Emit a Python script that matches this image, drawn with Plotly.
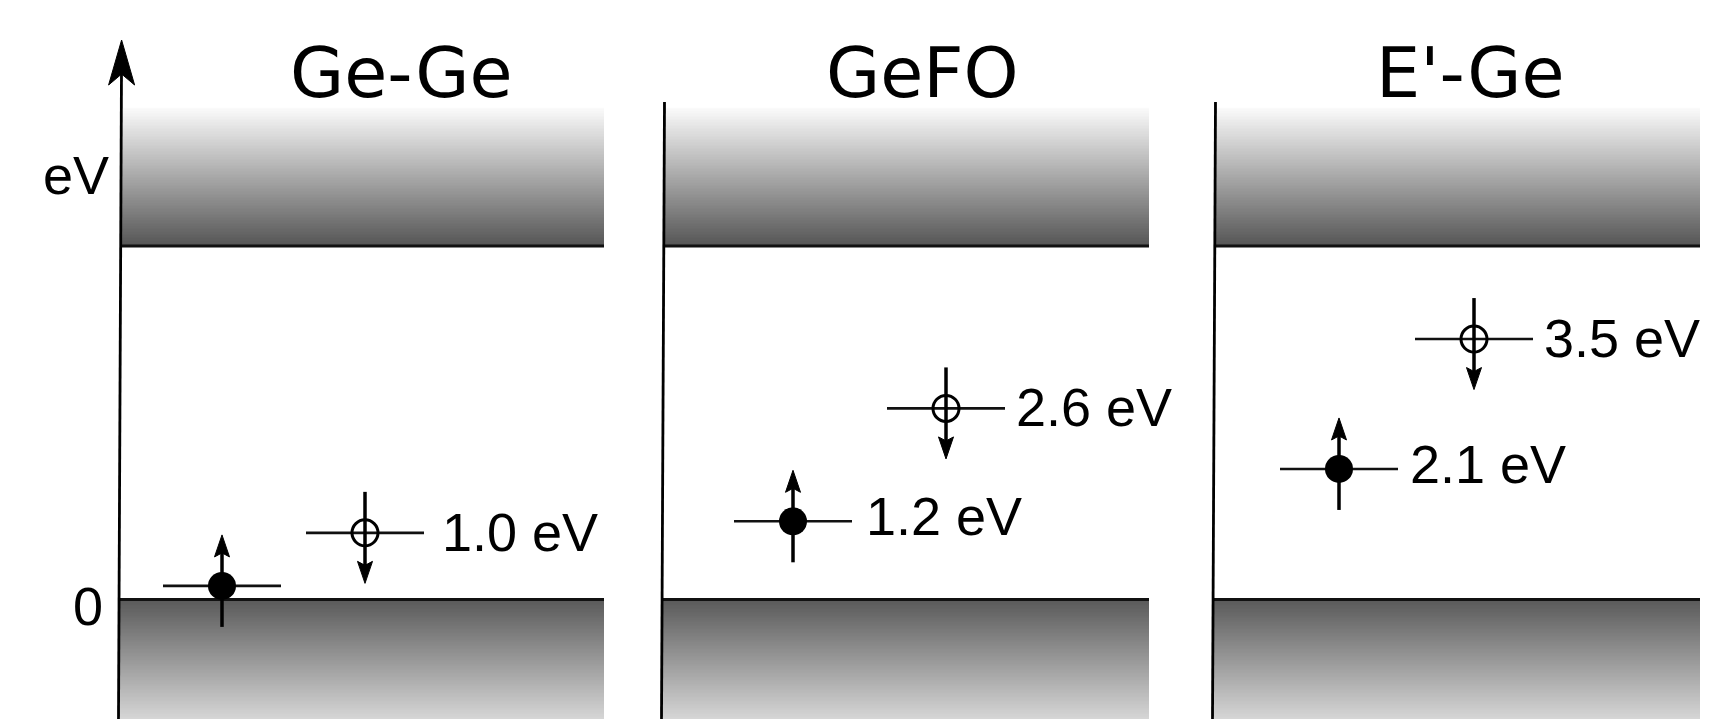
import numpy as np
import plotly.graph_objects as go

# ---------------- data (energies in eV, relative to valence-band top) ----------------
defects = ["Ge-Ge", "GeFO", "E'-Ge"]
vb_edge_ev = [0.0, 0.0, 0.0]
cb_edge_ev = [5.2, 5.2, 5.2]
occupied_ev = [0.20, 1.15, 1.92]     # filled circle, spin-up electron
empty_ev = [0.98, 2.81, 3.83]        # open circle, spin-down (empty) level
occupied_labels = ["", "1.2 eV", "2.1 eV"]
empty_labels = ["1.0 eV", "2.6 eV", "3.5 eV"]
axis_unit = "eV"
axis_zero = "0"

# ---------------- layout geometry (pixels) ----------------
W, H = 1712, 719
PX = 68.0                 # pixels per eV
ZERO_PX = 599.5           # pixel row of 0 eV
Y_MAX = ZERO_PX / PX
Y_MIN = -(H - ZERO_PX) / PX


def ev(px):
    return px / PX


def row(px):
    return (ZERO_PX - px) / PX


panel_left = [120, 663, 1214]
panel_right = [604, 1149, 1700]
panel_axis_top = [40, 102, 102]
occ_x = [222, 793, 1339]
emp_x = [365, 946, 1474]
occ_label_x = [0, 864, 1408]
emp_label_x = [440, 1014, 1542]
title_x = [401, 922, 1470]
title_y_px = 73
band_fade_px = 138        # height of the shaded band region beyond each edge

HALF = 59                 # half length of level line
LINE_W = 2.6
SHAFT_W = 3.5
BAND_LINE_W = 3.0
AXIS_W = 2.8

fig = go.Figure()

# ---------------- shaded bands ----------------
gray = [[0, "rgb(0,0,0)"], [1, "rgb(255,255,255)"]]
n = 90
for i in range(3):
    xl = panel_left[i]
    xr = panel_right[i]
    # conduction band (dark at edge, fading to white upward)
    cb = cb_edge_ev[i]
    ye = np.linspace(cb, cb + ev(band_fade_px), n + 1)
    zc = np.linspace(86, 250, n)
    fig.add_trace(go.Heatmap(x=[xl, xr], y=ye, z=[[v] for v in zc],
                             colorscale=gray, zmin=0, zmax=255,
                             showscale=False, hoverinfo="skip"))
    # valence band (dark at edge, fading downward)
    vb = vb_edge_ev[i]
    ye = np.linspace(vb, Y_MIN, n + 1)
    zv = np.linspace(90, 214, n)
    fig.add_trace(go.Heatmap(x=[xl, xr], y=ye, z=[[v] for v in zv],
                             colorscale=gray, zmin=0, zmax=255,
                             showscale=False, hoverinfo="skip"))


def line(xs, ys, w, color="black"):
    fig.add_trace(go.Scatter(x=xs, y=ys, mode="lines",
                             line=dict(color=color, width=w),
                             hoverinfo="skip", showlegend=False))


def head(x, tip, up, L, Wd, notch):
    s = 1 if up else -1
    xs = [x, x - Wd / 2, x, x + Wd / 2, x]
    ys = [tip, tip - s * ev(L), tip - s * ev(L - notch), tip - s * ev(L), tip]
    fig.add_trace(go.Scatter(x=xs, y=ys, mode="lines", fill="toself",
                             fillcolor="black", line=dict(color="black", width=1),
                             hoverinfo="skip", showlegend=False))


# band edge lines and axes
for i in range(3):
    xl, xr = panel_left[i], panel_right[i]
    line([xl, xr], [cb_edge_ev[i]] * 2, BAND_LINE_W, "#111")
    line([xl, xr], [vb_edge_ev[i]] * 2, BAND_LINE_W, "#111")
    top = row(panel_axis_top[i]) if i > 0 else row(panel_axis_top[i] + 30)
    line([xl - 1.5, xl + 1.5], [Y_MIN, top], AXIS_W)

# energy axis arrow head
head(panel_left[0] + 1.6, row(panel_axis_top[0]), True, 45, 26, 11)

# ---------------- defect levels ----------------
for i in range(3):
    yo, ye_ = occupied_ev[i], empty_ev[i]
    xo, xe = occ_x[i], emp_x[i]
    line([xo - HALF, xo + HALF], [yo, yo], LINE_W, "#111")
    line([xe - HALF, xe + HALF], [ye_, ye_], LINE_W, "#111")
    # spin-up arrow through filled level
    line([xo, xo], [yo - ev(41), yo + ev(40)], SHAFT_W)
    head(xo, yo + ev(51), True, 22, 15, 4)
    # spin-down arrow through empty level
    line([xe, xe], [ye_ + ev(41), ye_ - ev(40)], SHAFT_W)
    head(xe, ye_ - ev(50.5), False, 22, 15, 4)

fig.add_trace(go.Scatter(x=occ_x, y=occupied_ev, mode="markers",
                         marker=dict(symbol="circle", size=28, color="black"),
                         hoverinfo="skip", showlegend=False))
fig.add_trace(go.Scatter(x=emp_x, y=empty_ev, mode="markers",
                         marker=dict(symbol="circle-open", size=26, color="black",
                                     line=dict(width=3.0, color="black")),
                         hoverinfo="skip", showlegend=False))

# ---------------- text ----------------
label_font = dict(family="Liberation Sans, Arial, sans-serif", size=54, color="black")
title_font = dict(family="DejaVu Sans, sans-serif", size=70, color="black")

ann = []
for i in range(3):
    ann.append(dict(x=title_x[i], y=row(title_y_px), text=defects[i], showarrow=False,
                    xanchor="center", yanchor="middle", font=title_font))
    if occupied_labels[i]:
        ann.append(dict(x=occ_label_x[i], y=occupied_ev[i], text=occupied_labels[i],
                        showarrow=False, xanchor="left", yanchor="middle",
                        yshift=5, font=label_font))
    ann.append(dict(x=emp_label_x[i], y=empty_ev[i], text=empty_labels[i],
                    showarrow=False, xanchor="left", yanchor="middle",
                    yshift=1, font=label_font))

ann.append(dict(x=76, y=row(175), text=axis_unit, showarrow=False,
                xanchor="center", yanchor="middle", font=label_font))
ann.append(dict(x=88, y=row(606), text=axis_zero, showarrow=False,
                xanchor="center", yanchor="middle", font=label_font))

fig.update_layout(
    width=W, height=H,
    margin=dict(l=0, r=0, t=0, b=0),
    paper_bgcolor="white", plot_bgcolor="white",
    xaxis=dict(range=[0, W], visible=False, fixedrange=True),
    yaxis=dict(range=[Y_MIN, Y_MAX], visible=False, fixedrange=True),
    showlegend=False,
    annotations=ann,
)

fig.write_html("out.html", config={"displayModeBar": False},
               post_script="document.body.style.margin='0';document.body.style.overflow='hidden';")
